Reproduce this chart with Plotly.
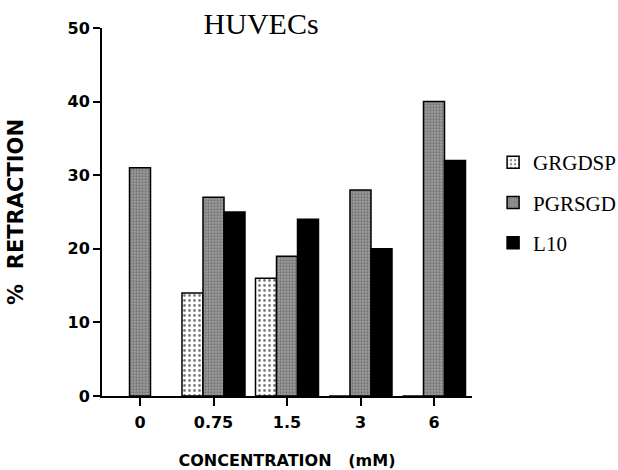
import plotly.graph_objects as go

categories = ["0", "0.75", "1.5", "3", "6"]
grgdsp = [None, 14, 16, 0, 0]
pgrsgd = [31, 27, 19, 28, 40]
l10 = [None, 25, 24, 20, 32]
series_names = ["GRGDSP", "PGRSGD", "L10"]
y_ticks = [0, 10, 20, 30, 40, 50]

fig = go.Figure()
fig.add_trace(go.Bar(
    x=categories, y=grgdsp, name=series_names[0], legendgroup="a",
    marker=dict(color="white", line=dict(color="black", width=1.5),
                pattern=dict(shape=".", fgcolor="black", bgcolor="white", size=5, solidity=0.25)),
))
fig.add_trace(go.Bar(
    x=categories, y=pgrsgd, name=series_names[1], legendgroup="b",
    marker=dict(color="#8c8c8c", line=dict(color="black", width=1.5),
                pattern=dict(shape=".", fgcolor="#505050", bgcolor="#9c9c9c", size=3, solidity=0.45)),
))
fig.add_trace(go.Bar(
    x=categories, y=l10, name=series_names[2], legendgroup="c",
    marker=dict(color="black", line=dict(color="black", width=1.5)),
))

fig.update_layout(
    width=618, height=470,
    margin=dict(l=102, r=146, t=28, b=74, autoexpand=False),
    paper_bgcolor="white", plot_bgcolor="white",
    barmode="group", bargap=0.143, bargroupgap=0,
    title=dict(text="HUVECs", x=0.43, xref="paper", xanchor="center", y=0.951, yanchor="middle",
               font=dict(family="Liberation Serif", size=30, color="black")),
    legend=dict(x=1.057, y=0.69, xanchor="left", yanchor="top",
                font=dict(family="Liberation Serif", size=21, color="black"),
                traceorder="grouped", tracegroupgap=10, itemwidth=30),
    font=dict(family="DejaVu Sans", color="black"),
)
fig.update_xaxes(
    type="category", range=[-0.517, 4.517], automargin=False,
    showline=True, linecolor="black", linewidth=2,
    ticks="outside", ticklen=8, tickwidth=1.5, tickcolor="black", ticklabelstandoff=3,
    tickfont=dict(family="DejaVu Sans", size=16, color="black", weight="bold"),
    title=dict(text="CONCENTRATION   (mM)", standoff=26,
               font=dict(family="DejaVu Sans", size=16, color="black", weight="bold")),
    showgrid=False, zeroline=False,
)
fig.update_yaxes(
    range=[0, 50], tickvals=y_ticks, automargin=False,
    showline=True, linecolor="black", linewidth=2,
    ticks="outside", ticklen=7, tickwidth=1.5, tickcolor="black",
    tickfont=dict(family="DejaVu Sans", size=16, color="black", weight="bold"),
    title=dict(text="%  RETRACTION", standoff=38,
               font=dict(family="DejaVu Sans", size=21, color="black", weight="bold")),
    showgrid=False, zeroline=False,
)

fig.write_html(
    "out.html",
    config={"displayModeBar": False},
    post_script="document.body.style.margin='0';document.body.style.overflow='hidden';",
)
